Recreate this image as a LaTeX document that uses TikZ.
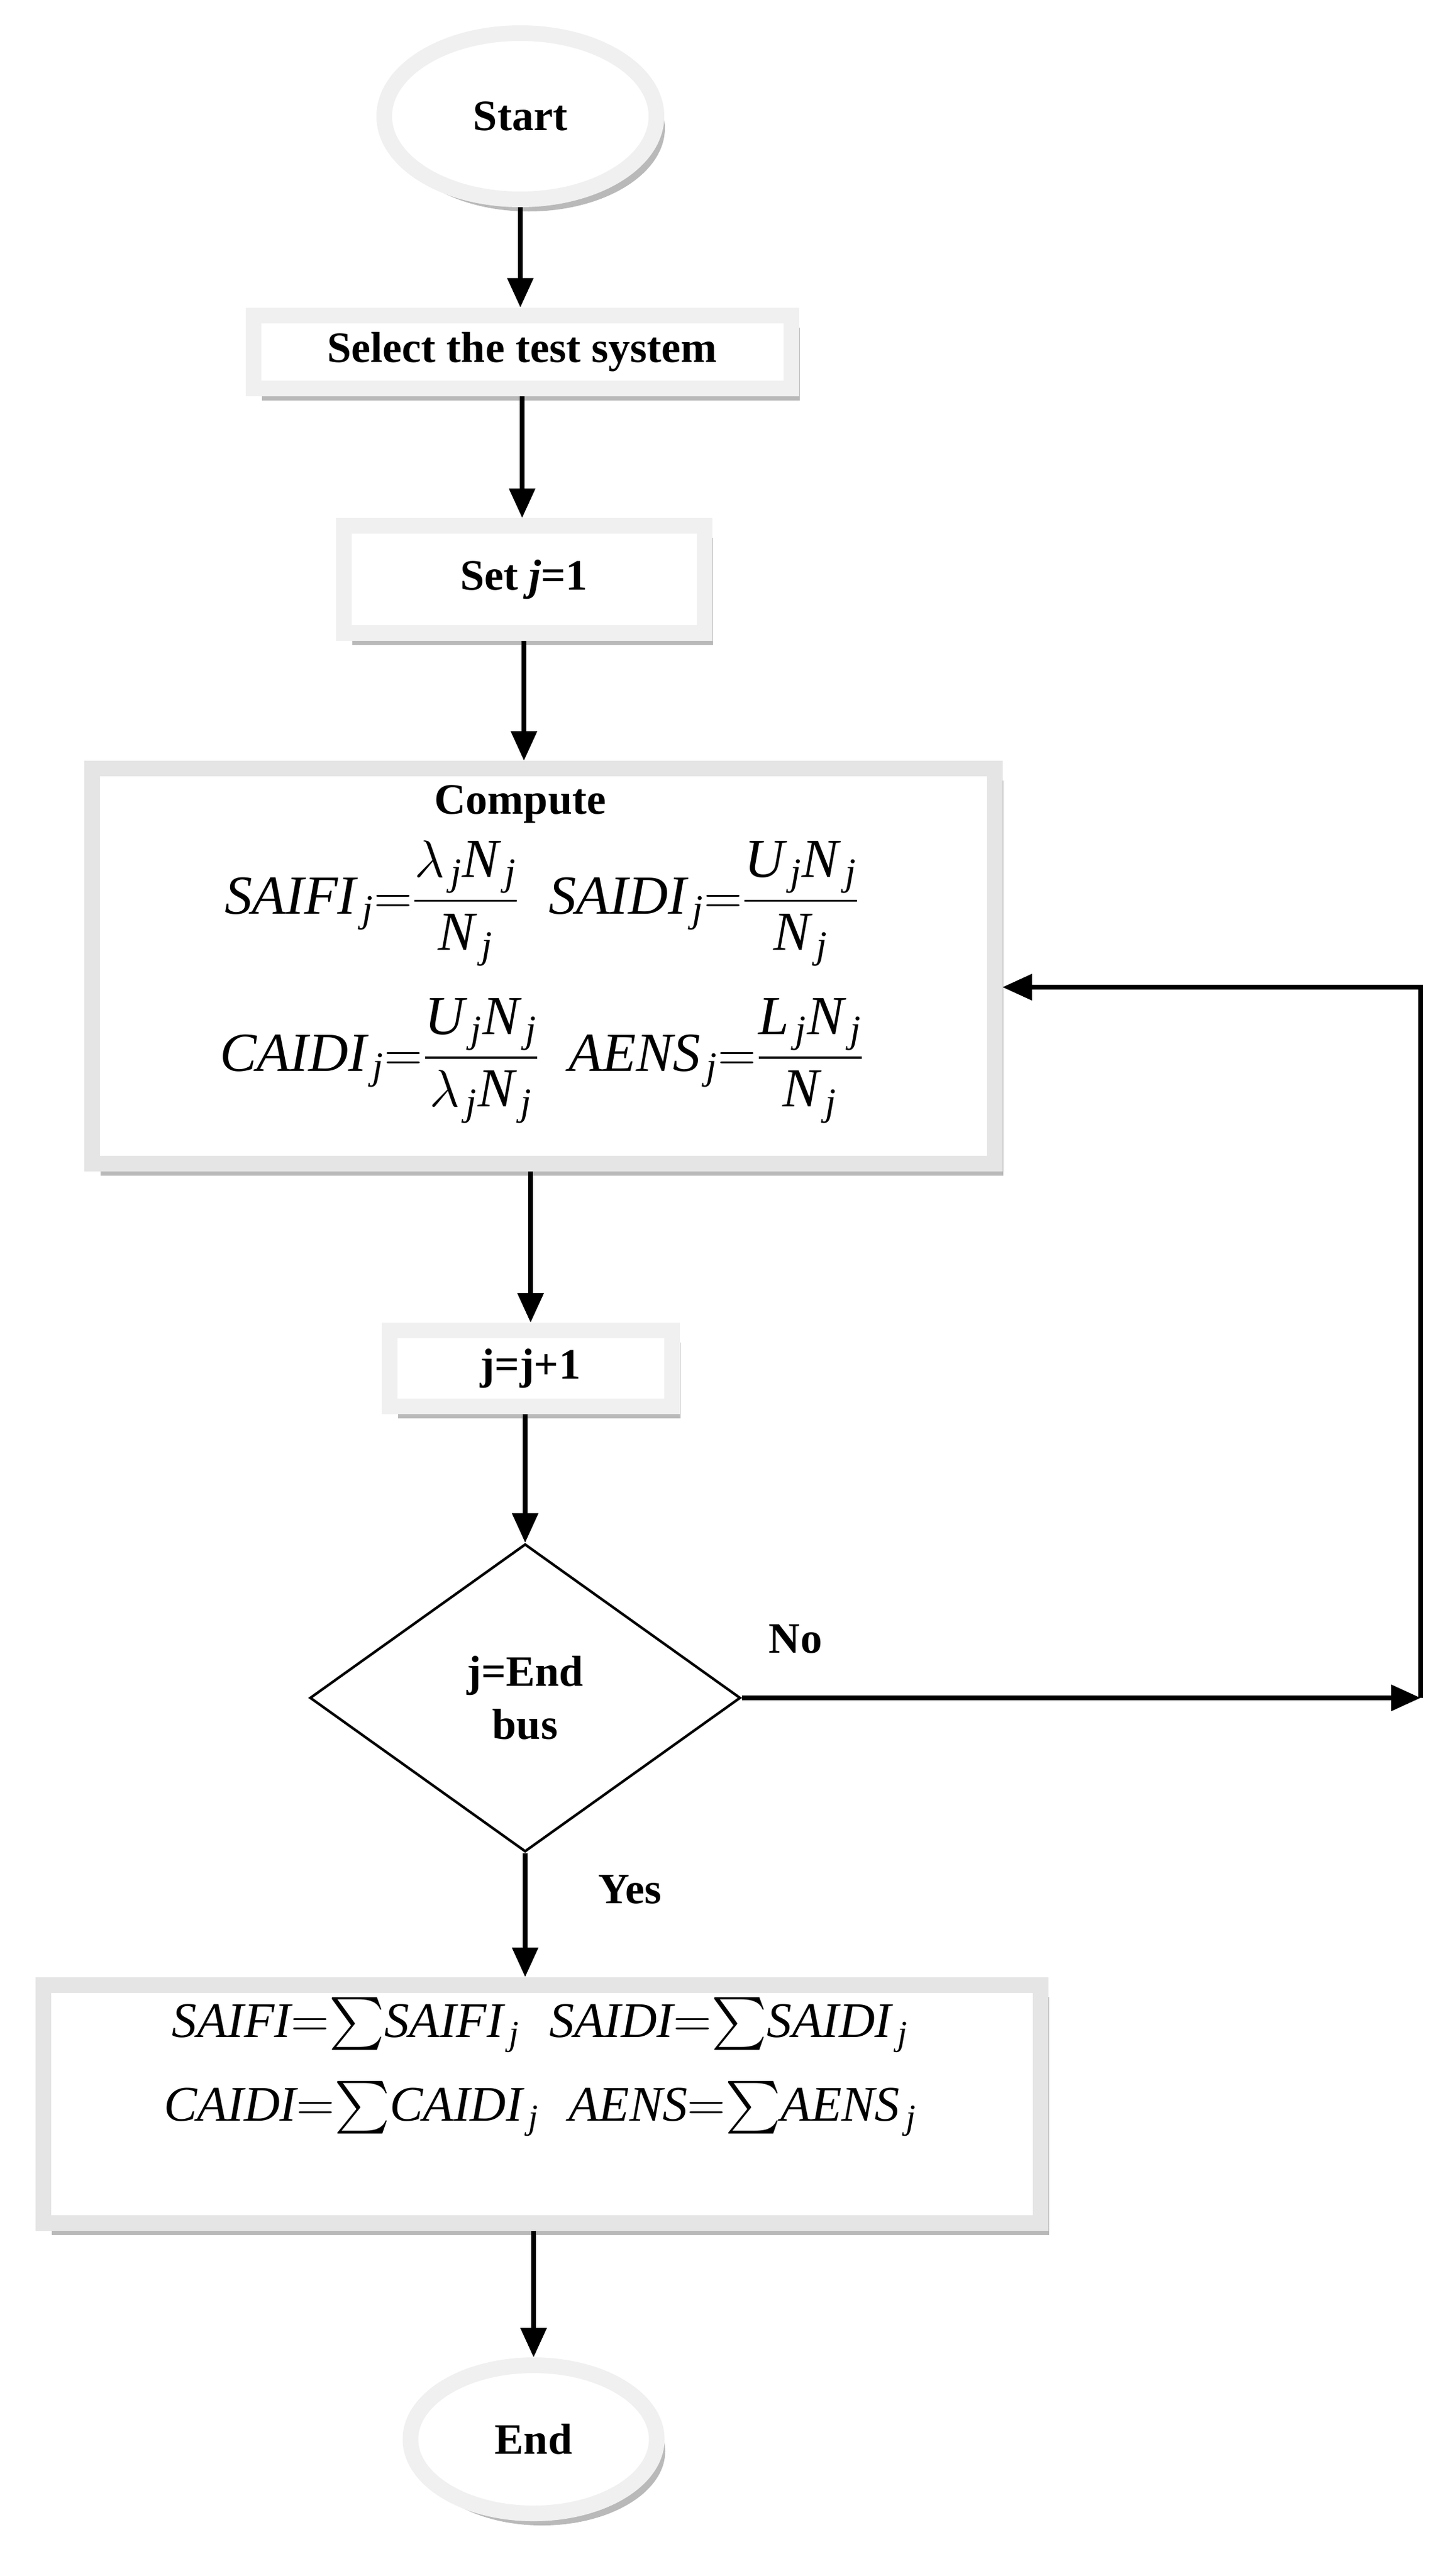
\documentclass[tikz,border=0pt]{standalone}
\usepackage{fontspec}
\usepackage{amsmath}
\setmainfont{Liberation Serif}
\usetikzlibrary{shapes.geometric,shadows,arrows.meta}
\newcommand{\vi}[1]{\textit{#1}}
\newcommand{\jj}{_{\,\textit{j}}}
\begin{document}
\begin{tikzpicture}[
  ring/.style={draw=gray!12,line width=0.26cm,fill=white,
    drop shadow={shadow xshift=0.14cm,shadow yshift=-0.2cm,fill=gray!55,opacity=1}},
  ringd/.style={ring,draw=gray!20},
  lbl/.style={font=\fontsize{20.5}{25}\selectfont\bfseries},
  eq/.style={font=\fontsize{26}{30}\selectfont},
  eqr/.style={font=\fontsize{23.5}{28}\selectfont},
  arr/.style={line width=2.3pt,-{Triangle[length=0.49cm,width=0.42cm]}}
]
\useasboundingbox (0,0) rectangle (24.11,-42.77);
\node[ring,ellipse,minimum width=4.52cm,minimum height=2.76cm,lbl] (start) at (8.64,-1.93) {Start};
\node[ring,rectangle,minimum width=8.93cm,minimum height=1.21cm,lbl] (sel) at (8.67,-5.84) {Select the test system};
\node[ring,rectangle,minimum width=5.99cm,minimum height=1.78cm,lbl] (set) at (8.70,-9.62) {Set \textit{j}=1};
\node[ringd,rectangle,minimum width=14.99cm,minimum height=6.56cm] (comp) at (9.02,-16.04) {};
\node[lbl] (ctitle) at (8.64,-13.35) {Compute};
\node[eq] (row1) at (9.0,-15.0) {$\vi{SAIFI}\jj{=}\dfrac{\lambda\jj\vi{N}\jj}{\vi{N}\jj}\;\;\vi{SAIDI}\jj{=}\dfrac{\vi{U}\jj\vi{N}\jj}{\vi{N}\jj}$};
\node[eq] (row2) at (9.0,-17.61) {$\vi{CAIDI}\jj{=}\dfrac{\vi{U}\jj\vi{N}\jj}{\lambda\jj\vi{N}\jj}\;\;\vi{AENS}\jj{=}\dfrac{\vi{L}\jj\vi{N}\jj}{\vi{N}\jj}$};
\node[ring,rectangle,minimum width=4.69cm,minimum height=1.26cm,lbl] (inc) at (8.81,-22.72) {j=j+1};
\node[draw,diamond,line width=1.2pt,minimum width=7.15cm,minimum height=5.11cm,inner sep=0pt,aspect=1.4,lbl,align=center] (dec) at (8.72,-28.19) {j=End\\bus};
\node[ringd,rectangle,minimum width=16.56cm,minimum height=3.95cm] (res) at (9.00,-34.93) {};
\node[eqr] (res1) at (8.97,-33.62) {$\vi{SAIFI}{=}{\sum}\vi{SAIFI}\jj\;\;\vi{SAIDI}{=}{\sum}\vi{SAIDI}\jj$};
\node[eqr] (res2) at (8.97,-35.01) {$\vi{CAIDI}{=}{\sum}\vi{CAIDI}\jj\;\;\vi{AENS}{=}{\sum}\vi{AENS}\jj$};
\node[ring,ellipse,minimum width=4.09cm,minimum height=2.46cm,lbl] (end) at (8.86,-40.50) {End};
\node[lbl] (no) at (13.21,-27.21) {No};
\node[lbl] (yes) at (10.46,-31.37) {Yes};
\coordinate (c1) at (23.59,-28.19);
\coordinate (c2) at (23.59,-16.39);
\draw[arr] (start.south) -- (start.south |- sel.north);
\draw[arr] (sel.south) -- (sel.south |- set.north);
\draw[arr] (set.south) -- (set.south |- comp.north);
\draw[arr] (comp.south -| inc) -- (inc.north);
\draw[arr] (inc.south -| dec) -- (dec.north);
\draw[arr] (dec.south) -- (dec.south |- res.north);
\draw[arr] (res.south -| end) -- (end.north);
\draw[arr] (dec.east) -- (c1);
\draw[arr] (c1) -- (c2) -- (comp.east |- c2);
\end{tikzpicture}
\end{document}
